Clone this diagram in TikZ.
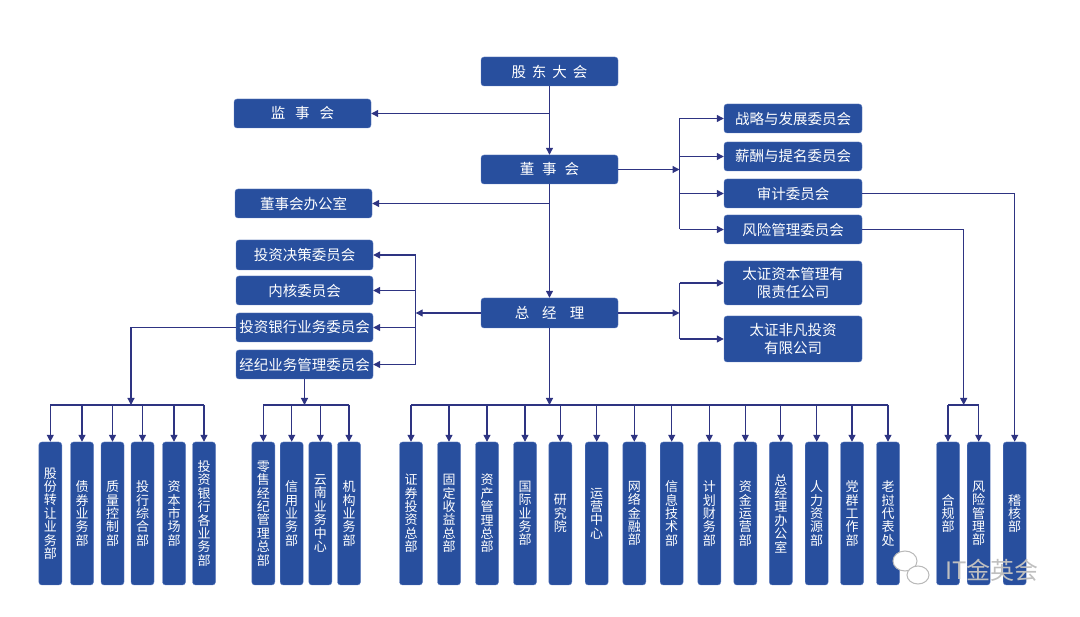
\documentclass[tikz,border=0pt]{standalone}
\usepackage{fontspec}
\newfontfamily\cjk{Noto Sans CJK SC}
\usetikzlibrary{arrows.meta}

\definecolor{boxblue}{RGB}{40,79,158}
\definecolor{boxedge}{RGB}{96,126,192}
\definecolor{linkblue}{RGB}{46,52,130}
\newcommand\cgap[1]{\hspace{#1pt}}

\begin{document}
\begin{tikzpicture}[x=1pt, y=-1pt]

        % Setup the styles for the boxes and the lines
        \tikzset{box/.style={draw=boxedge, fill=boxblue, rounded corners=3pt,
                             text=white, inner sep=0pt, align=center,
                             minimum width=137pt, minimum height=29pt,
                             font=\cjk\fontsize{14.5}{18}\selectfont},
                 col/.style={box, minimum width=23pt, minimum height=143pt,
                             font=\cjk\fontsize{13}{13.4}\selectfont},
                 link/.style={draw=linkblue, line width=1.2pt},
                 arr/.style={link, -{Triangle[length=7pt, width=7pt]}}}

        \useasboundingbox (0,0) rectangle (1080,617);

        % Draw the top boxes
        \node[box] at (549.5, 71.5)  (gd)   {股\cgap6东\cgap6大\cgap6会};
        \node[box] at (302.5, 113.5) (js)   {监\cgap{10}事\cgap{10}会};
        \node[box] at (549.5, 169.5) (ds)   {董\cgap8事\cgap8会};
        \node[box] at (303.5, 203.5) (dsb)  {董事会办公室};
        \node[box, minimum height=30pt]
                   at (549.5, 313)   (zjl)  {总\cgap{13}经\cgap{13}理};

        % Draw the committees of the board
        \node[box, minimum width=138pt] at (793, 118.5) (zl) {战略与发展委员会};
        \node[box, minimum width=138pt] at (793, 156.5) (xc) {薪酬与提名委员会};
        \node[box, minimum width=138pt] at (793, 193.5) (sj) {审计委员会};
        \node[box, minimum width=138pt] at (793, 229.5) (fx) {风险管理委员会};

        % Draw the committees of the manager
        \node[box, minimum height=30pt] at (304.5, 255)   (tj) {投资决策委员会};
        \node[box] at (304.5, 290.5) (nh) {内核委员会};
        \node[box] at (304.5, 327.5) (th) {投资银行业务委员会};
        \node[box] at (304.5, 364.5) (jj) {经纪业务管理委员会};

        % Draw the subsidiaries
        \node[box, minimum width=138pt, minimum height=44pt]
                   at (793, 283) (tzzb) {太证资本管理有\\限责任公司};
        \node[box, minimum width=138pt, minimum height=46pt]
                   at (793, 339) (tzff) {太证非凡投资\\有限公司};

        % Draw the departments, first group
        \node[col] at (50.3, 513.5)  (gfzr) {股\\份\\转\\让\\业\\务\\部};
        \node[col] at (82, 513.5)    (zqyw) {债\\券\\业\\务\\部};
        \node[col] at (112.5, 513.5) (zlkz) {质\\量\\控\\制\\部};
        \node[col] at (142.5, 513.5) (thzh) {投\\行\\综\\合\\部};
        \node[col] at (174, 513.5)   (zbsc) {资\\本\\市\\场\\部};
        \node[col] at (204, 513.5)   (thgb) {投\\资\\银\\行\\各\\业\\务\\部};

        % second group
        \node[col] at (263.3, 513.5) (lsjj) {零\\售\\经\\纪\\管\\理\\总\\部};
        \node[col] at (291.7, 513.5) (xyyw) {信\\用\\业\\务\\部};
        \node[col] at (320.3, 513.5) (ynzx) {云\\南\\业\\务\\中\\心};
        \node[col] at (349, 513.5)   (jgyw) {机\\构\\业\\务\\部};

        % third group
        \node[col] at (411, 513.5)   (zqtz) {证\\券\\投\\资\\总\\部};
        \node[col] at (449, 513.5)   (gdsy) {固\\定\\收\\益\\总\\部};
        \node[col] at (487, 513.5)   (zcgl) {资\\产\\管\\理\\总\\部};
        \node[col] at (525, 513.5)   (gjyw) {国\\际\\业\\务\\部};
        \node[col] at (560.3, 513.5) (yjy)  {研\\究\\院};
        \node[col] at (596.7, 513.5) (yyzx) {运\\营\\中\\心};
        \node[col] at (634.3, 513.5) (wljr) {网\\络\\金\\融\\部};
        \node[col] at (671.7, 513.5) (xxjs) {信\\息\\技\\术\\部};
        \node[col] at (709.3, 513.5) (jhcw) {计\\划\\财\\务\\部};
        \node[col] at (745.3, 513.5) (zjyy) {资\\金\\运\\营\\部};
        \node[col] at (780.8, 513.5) (zjlb) {总\\经\\理\\办\\公\\室};
        \node[col] at (816.7, 513.5) (rlzy) {人\\力\\资\\源\\部};
        \node[col] at (852, 513.5)   (dqgz) {党\\群\\工\\作\\部};
        \node[col] at (888, 513.5)   (lwdb) {老\\挝\\代\\表\\处};

        % fourth group
        \node[col] at (948, 513.5)    (hgb) {合\\规\\部};
        \node[col] at (978.7, 513.5)  (fxb) {风\\险\\管\\理\\部};
        \node[col] at (1014.7, 513.5) (jhb) {稽\\核\\部};

        % Bus points
        \coordinate (rb)  at (679.5, 0);
        \coordinate (lb)  at (415.7, 0);
        \coordinate (bus) at (0, 405);
        \coordinate (g1)  at (131, 405);
        \coordinate (g4)  at (963.7, 405);

        % Connect the top of the chart
        \draw[arr] (gd) -- (ds);
        \draw[arr] (gd |- js) -- (js);
        \draw[arr] (ds) -- (zjl);
        \draw[arr] (ds |- dsb) -- (dsb);

        % Board to its committees
        \draw[arr] (ds.east) -- (ds.east -| rb);
        \draw[link] (zl.west -| rb) -- (fx.west -| rb);
        \path (zl.west -| rb) edge[arr] (zl)
              (xc.west -| rb) edge[arr] (xc)
              (sj.west -| rb) edge[arr] (sj)
              (fx.west -| rb) edge[arr] (fx);

        % Manager to its committees and subsidiaries
        \draw[arr] (zjl.west) -- (zjl.west -| lb);
        \draw[link] (tj.east -| lb) -- (jj.east -| lb);
        \path (tj.east -| lb) edge[arr] (tj)
              (nh.east -| lb) edge[arr] (nh)
              (th.east -| lb) edge[arr] (th)
              (jj.east -| lb) edge[arr] (jj);
        \draw[arr] (zjl.east) -- (zjl.east -| rb);
        \draw[link] (tzzb.west -| rb) -- (tzff.west -| rb);
        \path (tzzb.west -| rb) edge[arr] (tzzb)
              (tzff.west -| rb) edge[arr] (tzff);

        % Down to the departments
        \draw[arr] (th.west) -| (g1);
        \draw[link] (gfzr |- bus) -- (thgb |- bus);
        \path (gfzr |- bus) edge[arr] (gfzr)
              (zqyw |- bus) edge[arr] (zqyw)
              (zlkz |- bus) edge[arr] (zlkz)
              (thzh |- bus) edge[arr] (thzh)
              (zbsc |- bus) edge[arr] (zbsc)
              (thgb |- bus) edge[arr] (thgb);

        \draw[arr] (jj) -- (jj |- bus);
        \draw[link] (lsjj |- bus) -- (jgyw |- bus);
        \path (lsjj |- bus) edge[arr] (lsjj)
              (xyyw |- bus) edge[arr] (xyyw)
              (ynzx |- bus) edge[arr] (ynzx)
              (jgyw |- bus) edge[arr] (jgyw);

        \draw[arr] (zjl) -- (zjl |- bus);
        \draw[link] (zqtz |- bus) -- (lwdb |- bus);
        \path (zqtz |- bus) edge[arr] (zqtz)
              (gdsy |- bus) edge[arr] (gdsy)
              (zcgl |- bus) edge[arr] (zcgl)
              (gjyw |- bus) edge[arr] (gjyw)
              (yjy |- bus)  edge[arr] (yjy)
              (yyzx |- bus) edge[arr] (yyzx)
              (wljr |- bus) edge[arr] (wljr)
              (xxjs |- bus) edge[arr] (xxjs)
              (jhcw |- bus) edge[arr] (jhcw)
              (zjyy |- bus) edge[arr] (zjyy)
              (zjlb |- bus) edge[arr] (zjlb)
              (rlzy |- bus) edge[arr] (rlzy)
              (dqgz |- bus) edge[arr] (dqgz)
              (lwdb |- bus) edge[arr] (lwdb);

        \draw[arr] (fx.east) -| (g4);
        \draw[link] (hgb |- bus) -- (fxb |- bus);
        \path (hgb |- bus) edge[arr] (hgb)
              (fxb |- bus) edge[arr] (fxb);
        \draw[arr] (sj.east) -| (jhb);

        % Watermark
        \draw[gray!55, fill=white, line width=1pt] (905, 561) ellipse (12 and 10);
        \draw[gray!55, fill=white, line width=1pt] (918, 575) ellipse (11 and 9);
        \node[text=gray!50, font=\cjk\fontsize{24}{24}\selectfont, inner sep=0pt]
              at (992, 570) (wm) {IT金英会};
    \end{tikzpicture}
\end{document}
